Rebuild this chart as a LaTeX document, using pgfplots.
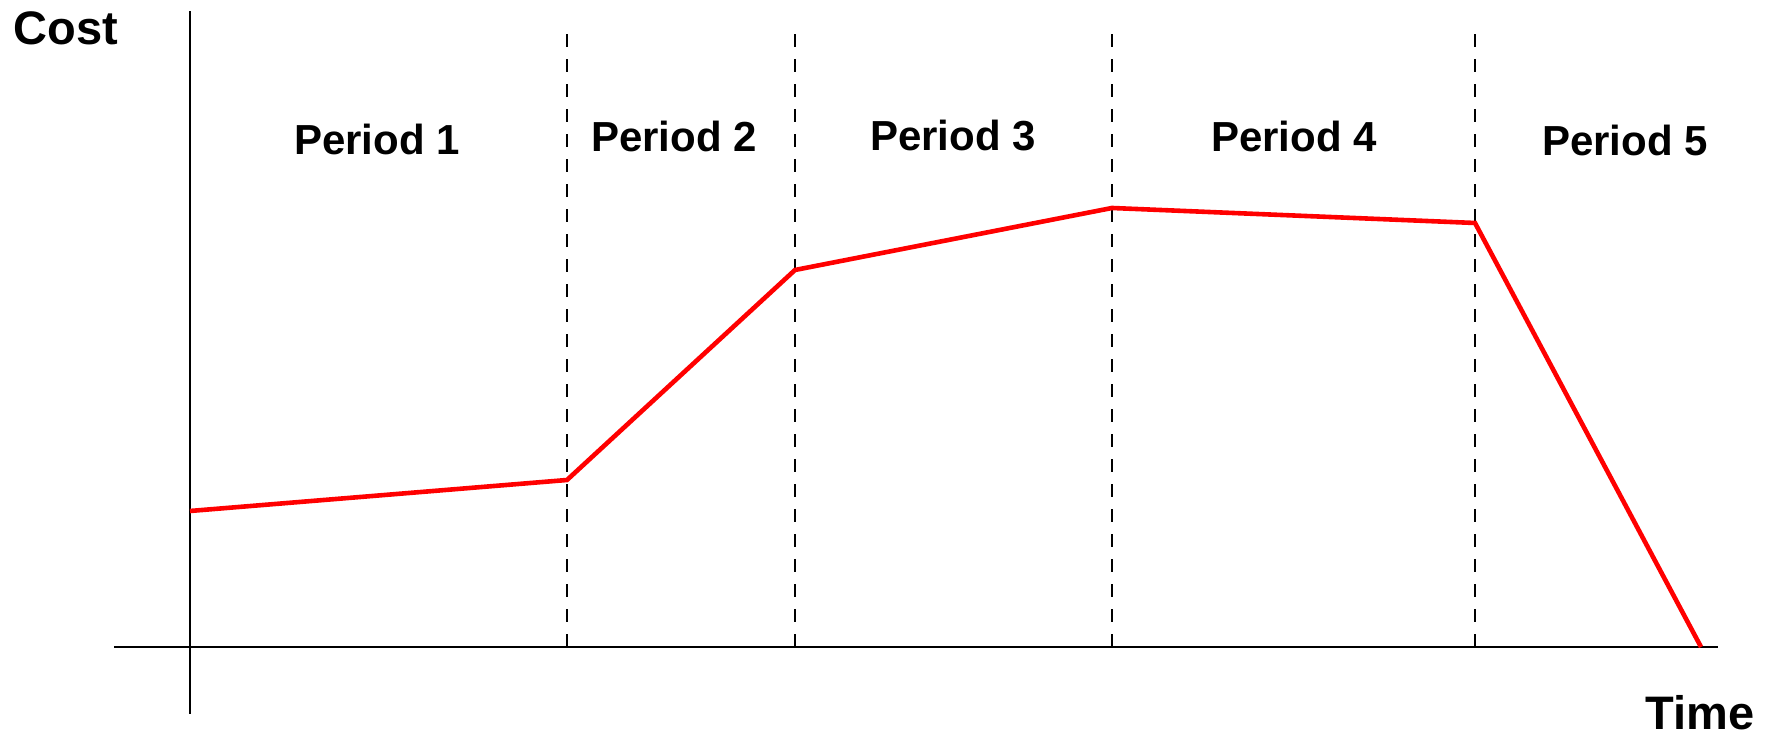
\documentclass[border=0pt]{standalone}
\usepackage{pgfplots}
\pgfplotsset{compat=1.18}
\usepackage{fontspec}
\setmainfont{Liberation Sans}
\begin{document}
\begin{tikzpicture}
\useasboundingbox (-57pt,-11.5pt) rectangle (831pt,357pt);
\begin{axis}[
  scale only axis,
  width=802pt, height=351.5pt,
  xmin=-0.76, xmax=15.28, ymin=-0.67, ymax=6.36,
  axis lines=middle,
  axis line style={-, line width=1.25pt, black},
  xtick=\empty, ytick=\empty,
  clip=false,
]
% period boundaries
\addplot[black, line width=1.35pt, dash pattern=on 6.5pt off 6pt] coordinates {(3.77,0) (3.77,6.2)};
\addplot[black, line width=1.35pt, dash pattern=on 6.5pt off 6pt] coordinates {(6.05,0) (6.05,6.2)};
\addplot[black, line width=1.35pt, dash pattern=on 6.5pt off 6pt] coordinates {(9.22,0) (9.22,6.2)};
\addplot[black, line width=1.35pt, dash pattern=on 6.5pt off 6pt] coordinates {(12.85,0) (12.85,6.2)};
% cost curve
\addplot[red, line width=2.3pt, line join=miter] coordinates {
  (0,1.36) (3.77,1.67) (6.05,3.77) (9.22,4.39) (12.85,4.24) (15.11,0)
};
\node[anchor=base, font=\fontsize{21}{25}\selectfont\bfseries] at (axis cs:1.87,4.92) {Period 1};
\node[anchor=base, font=\fontsize{21}{25}\selectfont\bfseries] at (axis cs:4.84,4.95) {Period 2};
\node[anchor=base, font=\fontsize{21}{25}\selectfont\bfseries] at (axis cs:7.63,4.96) {Period 3};
\node[anchor=base, font=\fontsize{21}{25}\selectfont\bfseries] at (axis cs:11.04,4.95) {Period 4};
\node[anchor=base, font=\fontsize{21}{25}\selectfont\bfseries] at (axis cs:14.35,4.91) {Period 5};
\node[anchor=base, font=\fontsize{23.5}{28}\selectfont\bfseries] at (axis cs:-1.24,6.02) {Cost};
\node[anchor=base, font=\fontsize{23.5}{28}\selectfont\bfseries] at (axis cs:15.10,-0.83) {Time};
\end{axis}
\end{tikzpicture}
\end{document}
